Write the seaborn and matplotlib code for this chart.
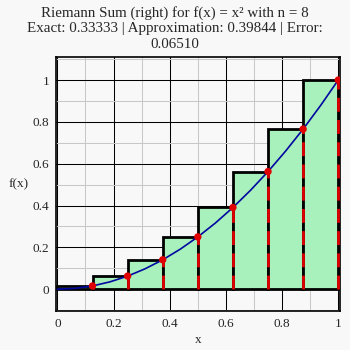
import matplotlib
matplotlib.use("Agg")
import matplotlib.pyplot as plt
import seaborn as sns
import pandas as pd
from matplotlib.ticker import MultipleLocator

# Data
left_edges = [0.0, 0.125, 0.25, 0.375, 0.5, 0.625, 0.75, 0.875]
right_pts = [0.125, 0.25, 0.375, 0.5, 0.625, 0.75, 0.875, 1.0]
bar_heights = [0.015625, 0.0625, 0.140625, 0.25, 0.390625, 0.5625, 0.765625, 1.0]
curve_x = [0.0, 0.0625, 0.125, 0.1875, 0.25, 0.3125, 0.375, 0.4375, 0.5,
           0.5625, 0.625, 0.6875, 0.75, 0.8125, 0.875, 0.9375, 1.0]
curve_y = [0.0, 0.0039, 0.0156, 0.0352, 0.0625, 0.0977, 0.1406, 0.1914, 0.25,
           0.3164, 0.3906, 0.4727, 0.5625, 0.6602, 0.7656, 0.8789, 1.0]
title = ("Riemann Sum (right) for f(x) = x\u00b2 with n = 8\n"
         "Exact: 0.33333 | Approximation: 0.39844 | Error:\n0.06510")

sns.set_style("white")
plt.rcParams['font.family'] = ['Liberation Serif', 'DejaVu Serif']

bg = "#f8f8f8"
fig = plt.figure(figsize=(3.5, 3.5), dpi=100, facecolor=bg)
ax = fig.add_axes([0.16, 0.111, 0.812, 0.726])
ax.set_facecolor(bg)

ax.set_xlim(-0.005, 1.007)
ax.set_ylim(-0.105, 1.11)
ax.xaxis.set_major_locator(MultipleLocator(0.2))
ax.xaxis.set_minor_locator(MultipleLocator(0.1))
ax.yaxis.set_major_locator(MultipleLocator(0.2))
ax.yaxis.set_minor_locator(MultipleLocator(0.1))
ax.grid(which='major', color='black', linewidth=0.75, zorder=0)
ax.grid(which='minor', color='#c8c8c8', linewidth=0.75, zorder=0)
ax.set_axisbelow(True)

ax.bar(left_edges, bar_heights, width=0.125, align='edge', color='#a8f0bc',
       edgecolor='black', linewidth=2, zorder=2)

df_c = pd.DataFrame({"x": curve_x, "y": curve_y})
sns.lineplot(data=df_c, x="x", y="y", color="#0008a0", linewidth=1.2, ax=ax, zorder=4)

ax.vlines(right_pts, 0, bar_heights, colors='#e00000', linestyles=(0, (5, 3)),
          linewidth=2, zorder=3)
df_p = pd.DataFrame({"x": right_pts, "y": bar_heights})
sns.scatterplot(data=df_p, x="x", y="y", color="#e00000", s=28, edgecolor='none',
                ax=ax, zorder=5)

ax.set_xticks([0, 0.2, 0.4, 0.6, 0.8, 1.0])
ax.set_xticklabels(["0", "0.2", "0.4", "0.6", "0.8", "1"])
ax.set_yticks([0, 0.2, 0.4, 0.6, 0.8, 1.0])
ax.set_yticklabels(["0", "0.2", "0.4", "0.6", "0.8", "1"])
ax.tick_params(axis='both', which='both', direction='in', labelsize=9.5,
               length=4, width=1, color='black', pad=5)
ax.tick_params(which='minor', length=2)

for s in ax.spines.values():
    s.set_color('black')
    s.set_linewidth(1.2)

ax.set_xlabel("x", fontsize=9.5, labelpad=3)
ax.set_ylabel("f(x)", fontsize=9.5, rotation=0, labelpad=10, va='center')
fig.text(0.5, 0.984, title, ha='center', va='top', fontsize=10.8, linespacing=1.25)

fig.savefig("out.png", dpi=100, facecolor=bg)
